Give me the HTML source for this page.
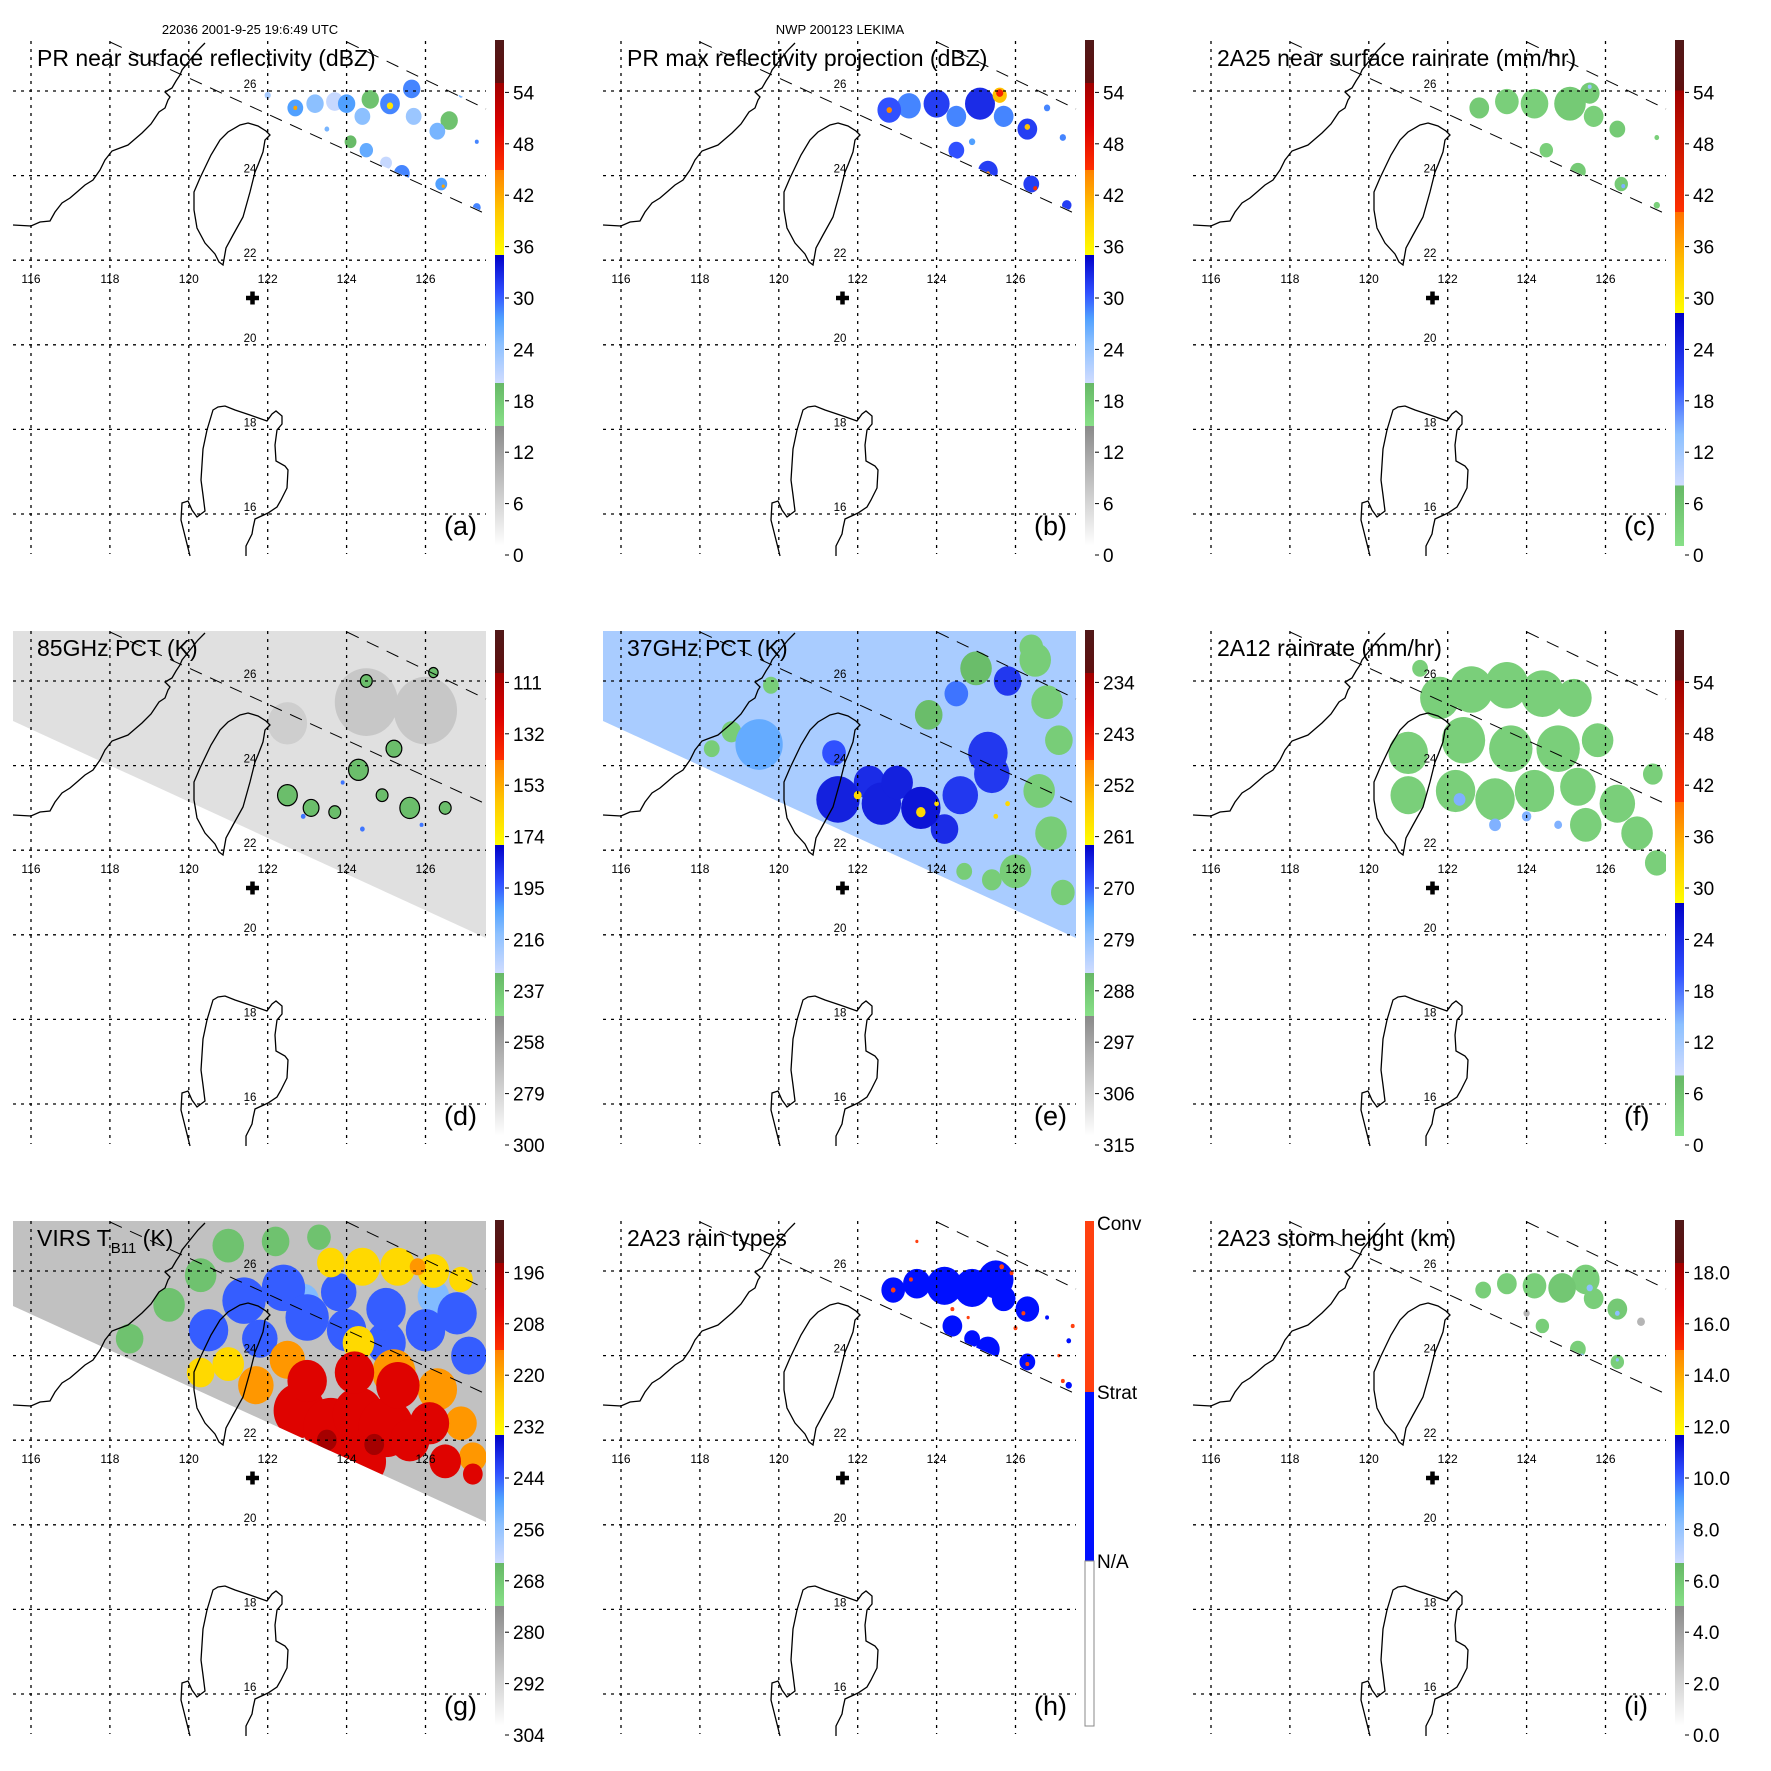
<!DOCTYPE html>
<html><head><meta charset="utf-8"><style>
html,body{margin:0;padding:0;background:#fff;}
svg{display:block;font-family:"Liberation Sans",sans-serif;}
</style></head><body>
<svg id="fig" width="1771" height="1771" viewBox="0 0 1771 1771" xmlns="http://www.w3.org/2000/svg">
<text x="250" y="34" font-size="13" text-anchor="middle">22036 2001-9-25 19:6:49 UTC</text>
<text x="840" y="34" font-size="13" text-anchor="middle">NWP 200123 LEKIMA</text>
</svg>
<script>
// ---- data arrays: [lon, lat, value, extent(deg)] ----
const prRefLon=[122.7,122.7,123.2,123.7,124.0,124.4,124.6,125.1,125.1,125.65,125.7,126.3,126.6,124.5,124.1,125.4,125.0,126.4,126.45,127.3,127.3,126.9,122.0,123.5];
const prRefLat=[25.6,25.6,25.7,25.75,25.7,25.4,25.8,25.7,25.65,26.05,25.4,25.05,25.3,24.6,24.8,24.05,24.3,23.8,23.75,23.25,24.8,25.9,25.9,25.1];
const prRefVal=[27,42,24,20,27,24,18,28,37,28,23,25,18,26,19,28,20,27,42,28,28,25,22,25];
const prRefExt=[.2,.05,.22,.22,.22,.2,.22,.25,.08,.22,.2,.2,.22,.17,.15,.2,.15,.15,.04,.1,.05,.06,.08,.06];

const prMaxLon=[122.8,122.8,123.3,124.0,124.5,125.1,125.6,125.6,125.7,126.3,126.3,124.5,125.3,125.3,126.4,126.5,127.3,127.2,126.8,124.9];
const prMaxLat=[25.55,25.55,25.65,25.7,25.4,25.7,25.9,25.95,25.4,25.1,25.15,24.6,24.1,24.05,23.8,23.7,23.3,24.9,25.6,24.8];
const prMaxVal=[30,44,28,31,28,32,40,46,28,31,40,30,31,44,31,45,31,28,28,27];
const prMaxExt=[.3,.07,.3,.33,.25,.38,.18,.09,.25,.25,.07,.2,.25,.05,.2,.05,.12,.08,.08,.08];

const rr25Lon=[122.8,123.5,124.2,125.1,125.6,125.7,126.3,124.5,125.3,126.4,126.45,125.6,127.3,127.3];
const rr25Lat=[25.6,25.75,25.7,25.7,25.95,25.4,25.1,24.6,24.1,23.8,23.75,26.1,23.3,24.9];
const rr25Val=[4,3,3,4,4,3,4,3,4,4,14,12,3,3];
const rr25Ext=[.25,.3,.35,.4,.25,.25,.2,.17,.2,.17,.05,.05,.08,.06];

const pct85Lon=[124.5,126.0,122.5,122.5,123.1,124.3,125.2,125.6,124.5,126.2,124.9,123.7,126.5,122.9,124.4,125.9,123.9];
const pct85Lat=[25.5,25.3,25.0,23.3,23.0,23.9,24.4,23.0,26.0,26.2,23.3,22.9,23.0,22.8,22.5,22.6,23.6];
const pct85Val=[276,276,279,235,235,235,235,235,235,235,235,235,235,200,200,200,200];
const pct85Ext=[.8,.8,.5,.25,.2,.25,.2,.25,.15,.12,.15,.15,.15,.06,.06,.05,.05];

const pct37Lon=[119.5,121.5,122.6,123.6,124.2,124.6,125.4,125.3,125.8,124.5,121.4,122.0,123.6,124.0,125.8,125.5,126.5,126.8,127.1,126.6,126.9,126.0,127.2,125.4,124.7,126.4,118.8,119.8,118.3,125.0,123.8,122.3,123.0];
const pct37Lat=[24.5,23.2,23.1,23.0,22.5,23.3,23.8,24.3,26.0,25.7,24.3,23.3,22.9,23.1,23.1,22.8,26.5,25.5,24.6,23.4,22.4,21.5,21.0,21.3,21.5,26.8,24.8,25.9,24.4,26.3,25.2,23.6,23.6];
const pct37Val=[276,266,266,265,267,268,268,268,268,272,270,258,258,258,258,258,290,290,290,290,290,290,290,290,290,290,290,290,290,287,287,267,266];
const pct37Ext=[.6,.55,.5,.5,.35,.45,.45,.5,.35,.3,.3,.1,.12,.06,.06,.06,.4,.4,.35,.4,.4,.4,.3,.25,.2,.3,.25,.2,.2,.4,.35,.4,.4];

const rr12Lon=[121.0,121.0,121.8,122.6,123.5,124.4,125.2,122.4,123.6,124.8,122.2,123.2,124.2,125.3,125.8,126.3,126.8,127.3,125.5,127.2,121.3,122.3,123.2,124.0,124.8];
const rr12Lat=[24.3,23.3,25.6,25.8,25.9,25.7,25.6,24.6,24.4,24.4,23.4,23.2,23.4,23.5,24.6,23.1,22.4,21.7,22.6,23.8,26.3,23.2,22.6,22.8,22.6];
const rr12Val=[3,3,3,3,3,3,3,3,3,3,3,3,3,3,3,3,3,3,3,3,3,14,14,14,14];
const rr12Ext=[.5,.45,.5,.55,.55,.55,.45,.55,.55,.55,.5,.5,.5,.45,.4,.45,.4,.3,.4,.25,.2,.15,.15,.12,.1];

const virsLon=[118.5,119.5,120.3,121.0,122.2,123.3,117.7,120.5,121.4,122.4,123.0,124.0,125.0,126.0,126.8,127.1,121.8,125.0,123.8,122.9,126.2,123.6,124.4,125.3,126.2,126.9,124.3,121.0,120.3,125.2,126.3,121.7,122.5,126.9,125.8,127.2,122.8,123.6,124.3,125.0,125.3,126.1,124.4,127.2,123.0,124.2,125.6,126.5,123.5,124.7];
const virsLat=[24.4,25.2,25.9,26.6,26.7,26.8,23.8,24.6,25.3,25.6,24.9,24.6,24.3,24.6,25.0,24.0,24.4,25.1,25.5,25.3,25.4,26.2,26.1,26.1,26.0,25.8,24.3,23.8,23.6,23.6,23.2,23.3,23.9,22.4,26.1,21.6,22.7,22.3,22.6,22.3,23.3,22.4,21.5,21.2,23.4,23.6,22.0,21.5,22.0,21.9];
const virsVal=[268,268,268,268,268,268,268,245,245,245,245,245,245,245,245,245,245,245,245,255,255,228,228,228,228,228,228,228,228,218,218,218,218,218,218,218,205,205,205,205,205,205,205,205,205,205,205,205,195,195];
const virsExt=[.35,.4,.4,.4,.35,.3,.3,.5,.55,.55,.55,.5,.5,.5,.5,.45,.45,.5,.45,.4,.4,.35,.45,.45,.4,.3,.4,.4,.35,.55,.5,.45,.45,.4,.2,.35,.65,.7,.65,.7,.55,.5,.6,.25,.5,.5,.5,.4,.25,.25];

const typeLon=[122.9,123.5,124.2,124.9,125.5,125.7,126.3,124.4,125.3,124.9,126.3,127.35,127.35,126.8,122.9,123.35,124.4,125.65,125.9,126.2,126.0,126.3,127.2,127.45,124.8,127.1,123.5];
const typeLat=[25.55,25.7,25.65,25.6,25.8,25.35,25.1,24.7,24.15,24.4,23.85,23.3,24.35,24.9,25.55,25.8,25.1,26.1,25.95,25.0,24.65,23.8,23.4,24.7,24.9,24.0,26.7];
const typeVal=[1,1,1,1,1,1,1,1,1,1,1,1,1,1,2,2,2,2,2,2,2,2,2,2,2,2,2];
const typeExt=[.3,.35,.45,.45,.45,.3,.3,.25,.3,.2,.2,.08,.06,.05,.06,.05,.05,.06,.05,.05,.05,.05,.05,.05,.04,.04,.04];

const shLon=[122.9,123.5,124.2,124.9,125.5,125.7,126.3,124.4,125.3,126.3,125.6,126.3,125.4,126.9,124.0,126.3];
const shLat=[25.55,25.7,25.65,25.6,25.8,25.35,25.1,24.7,24.15,23.85,25.6,25.0,24.0,24.8,25.0,23.9];
const shVal=[5.5,5.5,5.5,5.8,5.5,5.5,5.7,5.5,5.5,5.5,8,8,8,3,3,8];
const shExt=[.2,.25,.3,.35,.35,.25,.25,.17,.2,.17,.08,.06,.05,.1,.08,.04];

const lonTicks=[116,118,120,122,124,126];
const latTicks=[26,24,22,20,18,16];
const lblA=['0','6','12','18','24','30','36','42','48','54'];
const lbl85=['300','279','258','237','216','195','174','153','132','111'];
const lbl37=['315','306','297','288','279','270','261','252','243','234'];
const lblV=['304','292','280','268','256','244','232','220','208','196'];
const lblSH=['0.0','2.0','4.0','6.0','8.0','10.0','12.0','14.0','16.0','18.0'];

// ---- helpers ----
const NS='http://www.w3.org/2000/svg';
const svg=document.getElementById('fig');
function mk(tag,attrs,parent){const e=document.createElementNS(NS,tag);for(const k in attrs)e.setAttribute(k,attrs[k]);parent.appendChild(e);return e;}
function px(lon){return 31+(lon-116)*39.45;}
function py(lat){return 91+(26-lat)*42.3;}
const CM1=[[0,'#ffffff'],[0.237,'#8a8a8a'],[0.237,'#88e088'],[0.322,'#66b866'],[0.322,'#d0dcff'],[0.40,'#8cc0ff'],[0.45,'#50a0ff'],[0.50,'#3050ff'],[0.575,'#0000c8'],[0.575,'#ffff00'],[0.66,'#ffc800'],[0.743,'#ff8000'],[0.743,'#ff3000'],[0.83,'#dd0000'],[0.915,'#a00000'],[0.915,'#601010'],[1,'#501818']];
const CM2=[[0,'#88e088'],[0.12,'#66b866'],[0.12,'#d0dcff'],[0.22,'#8cc0ff'],[0.32,'#3050ff'],[0.46,'#0000c8'],[0.46,'#ffff00'],[0.56,'#ffc000'],[0.66,'#ff7000'],[0.66,'#ff3000'],[0.9,'#a00000'],[0.9,'#601010'],[1,'#501818']];
function hx(c){return [parseInt(c.substr(1,2),16),parseInt(c.substr(3,2),16),parseInt(c.substr(5,2),16)];}
function cmap(cm,f){f=Math.max(0,Math.min(1,f));for(let i=1;i<cm.length;i++){if(f<=cm[i][0]){const a=cm[i-1],b=cm[i];const t=b[0]===a[0]?1:(f-a[0])/(b[0]-a[0]);const A=hx(a[1]),B=hx(b[1]);return 'rgb('+A.map((v,k)=>Math.round(v+(B[k]-v)*t)).join(',')+')';}}return cm[cm.length-1][1];}

const china='M13,225 L31,226 L40,222 L50,221 L55,212 L62,203 L70,198 L77,192 L85,185 L93,180 L100,170 L105,160 L112,151 L120,148 L128,145 L135,139 L142,133 L151,124 L155,118 L159,112 L165,108 L168,100 L170,97 L165,92 L172,88 L176,81 L180,75 L182,70 L190,60 L198,50 L205,43';
const taiwan='M248,123 L258,126 L266,131 L270,135 L265,140 L263,152 L258,165 L255,172 L250,192 L243,217 L233,235 L226,248 L223,265 L219,262 L215,254 L205,243 L197,228 L194,210 L194,192 L200,178 L211,155 L220,140 L228,132 L240,125 Z';
const luzon='M190,556 L186,540 L181,520 L182,503 L188,501 L192,510 L197,517 L205,511 L203,495 L201,480 L203,449 L207,430 L213,410 L218,407 L225,406 L235,410 L250,415 L267,421 L272,414 L276,411 L282,416 L282,424 L277,430 L275,445 L276,461 L285,466 L288,470 L287,488 L281,500 L277,507 L268,513 L255,519 L253,528 L252,534 L246,546 L246,556';
const PRSWATH='108,41 486,213 486,108 347,41';

const panels=[
 {c:0,r:0,id:'a',title:'PR near surface reflectivity (dBZ)',cm:CM1,f:v=>v/60,lon:prRefLon,lat:prRefLat,val:prRefVal,ext:prRefExt,sw:'pr',lbl:lblA},
 {c:1,r:0,id:'b',title:'PR max reflectivity projection (dBZ)',cm:CM1,f:v=>v/60,lon:prMaxLon,lat:prMaxLat,val:prMaxVal,ext:prMaxExt,sw:'pr',lbl:lblA,outline:true},
 {c:2,r:0,id:'c',title:'2A25 near surface rainrate (mm/hr)',cm:CM2,f:v=>v/60,lon:rr25Lon,lat:rr25Lat,val:rr25Val,ext:rr25Ext,sw:'pr',lbl:lblA},
 {c:0,r:1,id:'d',title:'85GHz PCT (K)',cm:CM1,f:v=>(300-v)/210,lon:pct85Lon,lat:pct85Lat,val:pct85Val,ext:pct85Ext,sw:'tmi',bg:287,lbl:lbl85,outline:true},
 {c:1,r:1,id:'e',title:'37GHz PCT (K)',cm:CM1,f:v=>(315-v)/90,lon:pct37Lon,lat:pct37Lat,val:pct37Val,ext:pct37Ext,sw:'tmi',bg:282,lbl:lbl37},
 {c:2,r:1,id:'f',title:'2A12 rainrate (mm/hr)',cm:CM2,f:v=>v/60,lon:rr12Lon,lat:rr12Lat,val:rr12Val,ext:rr12Ext,sw:'none',lbl:lblA},
 {c:0,r:2,id:'g',title:'VIRS',cm:CM1,f:v=>(304-v)/120,lon:virsLon,lat:virsLat,val:virsVal,ext:virsExt,sw:'virs',bg:289,lbl:lblV},
 {c:1,r:2,id:'h',title:'2A23 rain types',cm:null,f:v=>v,lon:typeLon,lat:typeLat,val:typeVal,ext:typeExt,sw:'pr',lbl:null},
 {c:2,r:2,id:'i',title:'2A23 storm height (km)',cm:CM1,f:v=>v/20,lon:shLon,lat:shLat,val:shVal,ext:shExt,sw:'pr',lbl:lblSH}
];

const defs=mk('defs',{},svg);
panels.forEach(p=>{
  const g=mk('g',{transform:'translate('+(590*p.c)+','+(590*p.r)+')'},svg);
  
  
  const cp=mk('clipPath',{id:'clip-'+p.id},defs);
  if(p.sw==='pr') mk('polygon',{points:PRSWATH},cp);
  else if(p.sw==='tmi') mk('polygon',{points:'13,41 486,41 486,348 13,131'},cp);
  else if(p.sw==='virs') mk('polygon',{points:'13,41 486,41 486,342 13,126'},cp);
  else mk('rect',{x:13,y:41,width:473,height:513},cp);
  const data=mk('g',{'clip-path':'url(#clip-'+p.id+')'},g);
  
  
  if(p.bg!==undefined){
    const bg=mk('rect',{x:13,y:41,width:473,height:320,fill:cmap(p.cm,p.f(p.bg))},data);
    
    
  }
  const idx=p.val.map((v,i)=>i).sort((a,b)=>p.f(p.val[a])-p.f(p.val[b]));
  idx.forEach(i=>{
    let col;
    if(p.cm===null) col=p.val[i]===2?'#ff4010':'#0010ff';
    else col=cmap(p.cm,p.f(p.val[i]));
    const e=mk('ellipse',{cx:px(p.lon[i]),cy:py(p.lat[i]),rx:p.ext[i]*39.45,ry:p.ext[i]*42.3,fill:col},data);
    if(p.outline && p.ext[i]>0.1 && p.f(p.val[i])>0.2 && p.f(p.val[i])<0.4) {e.setAttribute('stroke','#000');e.setAttribute('stroke-width','1.2');}
    
    
  });
  [china,taiwan,luzon].forEach((d,k)=>{
    const c=mk('path',{d:d,fill:'none',stroke:'#000','stroke-width':1.3},g);
    
    
  });
  lonTicks.forEach(l=>{
    const ln=mk('line',{x1:px(l),x2:px(l),y1:41,y2:554,stroke:'#000','stroke-width':1.3,'stroke-dasharray':'3 5'},g);
    
    
    const t=mk('text',{x:px(l),y:283,'font-size':12,'text-anchor':'middle'},g);
    t.textContent=String(l);
    
    
  });
  latTicks.forEach(l=>{
    const ln=mk('line',{x1:13,x2:486,y1:py(l),y2:py(l),stroke:'#000','stroke-width':1.3,'stroke-dasharray':'3 5'},g);
    
    
    const t=mk('text',{x:250,y:py(l)-3,'font-size':11.5,'text-anchor':'middle'},g);
    t.textContent=String(l);
    
    
  });
  const d1=mk('line',{x1:110,y1:42,x2:486,y2:214,stroke:'#000','stroke-width':1,'stroke-dasharray':'13 9'},g);
  
  
  const d2=mk('line',{x1:347,y1:42,x2:486,y2:109,stroke:'#000','stroke-width':1,'stroke-dasharray':'13 9'},g);
  
  
  const cr=mk('path',{d:'M246,298 h13 M252.5,291.5 v13',stroke:'#000','stroke-width':4.5},g);
  
  
  const tt=mk('text',{x:37,y:66,'font-size':23},g);
  if(p.id==='g'){
    tt.innerHTML='VIRS T<tspan font-size="15" dy="7">B11</tspan><tspan dy="-7"> (K)</tspan>';
  } else tt.textContent=p.title;
  
  
  const lt=mk('text',{x:444,y:535,'font-size':27},g);
  lt.textContent='('+p.id+')';
  
  
  const cb=mk('g',{},g);
  
  
  if(p.cm){
    const gid='grad-'+p.id;
    const lg=mk('linearGradient',{id:gid,x1:0,y1:1,x2:0,y2:0},defs);
    p.cm.forEach(s=>mk('stop',{offset:s[0],'stop-color':s[1]},lg));
    mk('rect',{x:495,y:40,width:9,height:506,fill:'url(#'+gid+')'},cb);
    p.lbl.forEach((s,i)=>{
      const y=555-i*51.4;
      mk('line',{x1:505,x2:509,y1:y,y2:y,stroke:'#000','stroke-width':1},cb);
      const t=mk('text',{x:513,y:y+7,'font-size':19},cb);
      t.textContent=s;
      
      
    });
  } else {
    mk('rect',{x:495,y:41,width:9,height:171,fill:'#ff4010'},cb);
    mk('rect',{x:495,y:212,width:9,height:169,fill:'#0010ff'},cb);
    mk('rect',{x:495,y:381,width:9,height:165,fill:'#fff',stroke:'#888','stroke-width':1},cb);
    [['Conv',43],['Strat',212],['N/A',381]].forEach(a=>{
      const t=mk('text',{x:507,y:a[1]+7,'font-size':19},cb);
      t.textContent=a[0];
      
      
    });
  }
});
</script>
</body></html>
